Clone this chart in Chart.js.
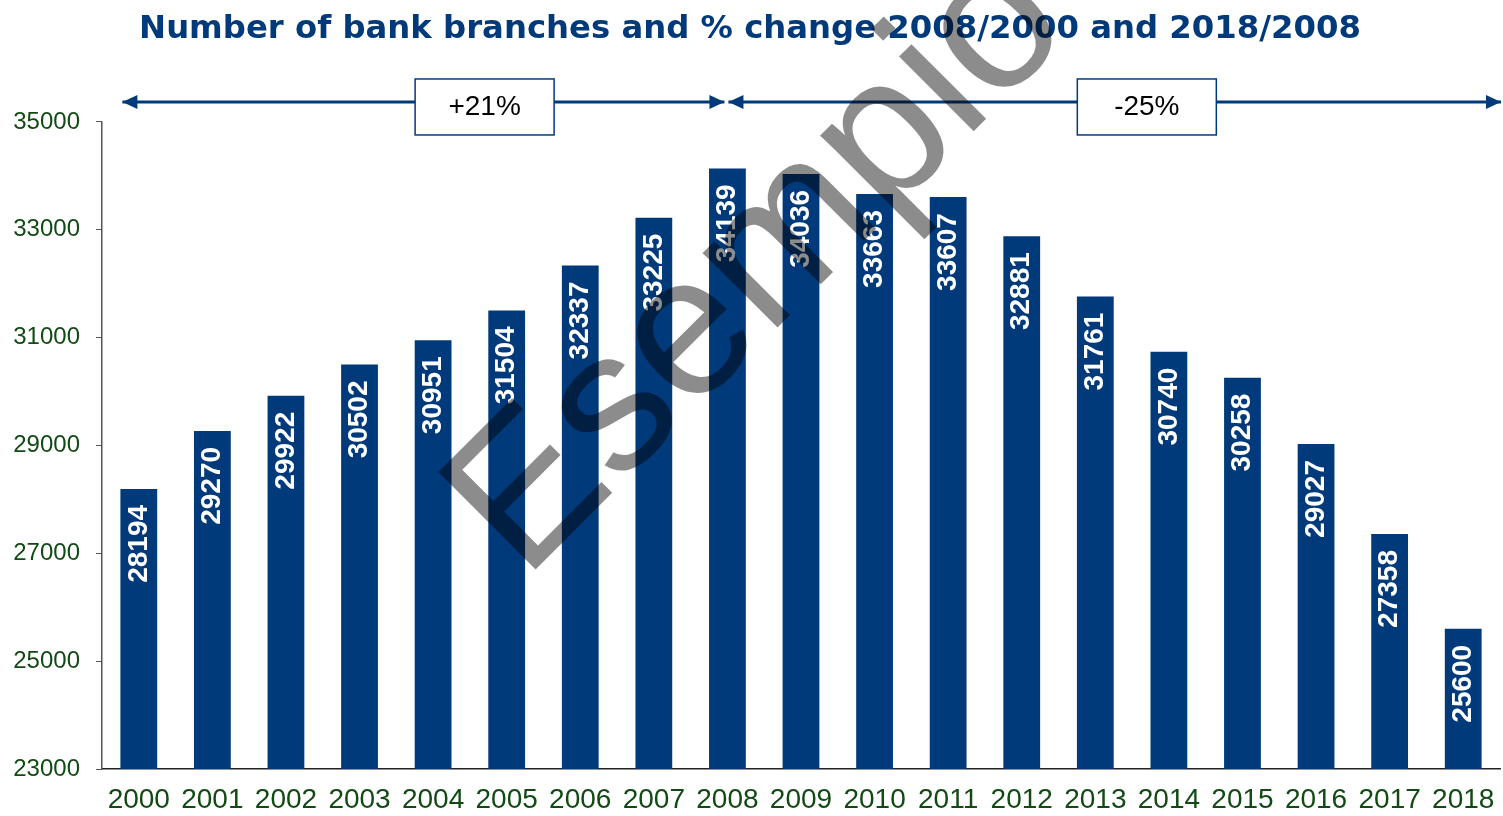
<!DOCTYPE html>
<html>
<head>
<meta charset="utf-8">
<script src="https://cdn.jsdelivr.net/npm/chart.js@4/dist/chart.umd.min.js"></script>
<style>
  html, body { margin: 0; padding: 0; background: #fff; }
  #wrap { width: 1503px; height: 816px; }
</style>
</head>
<body>
<div id="wrap"><canvas id="chart"></canvas></div>
<script>
const years = ["2000", "2001", "2002", "2003", "2004", "2005", "2006", "2007", "2008", "2009",
  "2010", "2011", "2012", "2013", "2014", "2015", "2016", "2017", "2018"];
const branches = [28194, 29270, 29922, 30502, 30951, 31504, 32337, 33225, 34139, 34036,
  33663, 33607, 32881, 31761, 30740, 30258, 29027, 27358, 25600];
const yTicks = [23000, 25000, 27000, 29000, 31000, 33000, 35000];
const changeLabels = ["+21%", "-25%"];
const titleText = "Number of bank branches and % change 2008/2000 and 2018/2008";
const watermark = "Esempio";

const navy = "#003a7a";
const green = "#124a14";

// white rotated values inside the top of each bar
const barValues = {
  id: "barValues",
  afterDatasetsDraw(chart) {
    const ctx = chart.ctx;
    const meta = chart.getDatasetMeta(0);
    ctx.save();
    ctx.fillStyle = "#fff";
    ctx.font = "bold 28px 'Liberation Sans', Arial, sans-serif";
    ctx.textAlign = "right";
    ctx.textBaseline = "middle";
    meta.data.forEach((bar, i) => {
      ctx.save();
      ctx.translate(bar.x, bar.y + 16);
      ctx.rotate(-Math.PI / 2);
      ctx.fillText(String(branches[i]), 0, 0);
      ctx.restore();
    });
    ctx.restore();
  }
};

function arrowHead(ctx, x, y, dir) {
  ctx.beginPath();
  ctx.moveTo(x, y);
  ctx.lineTo(x - dir * 15, y - 7);
  ctx.lineTo(x - dir * 15, y + 7);
  ctx.closePath();
  ctx.fill();
}

// the two period arrows with their % boxes, and the watermark
const periodArrows = {
  id: "periodArrows",
  afterDraw(chart) {
    const ctx = chart.ctx;
    const x = chart.scales.x;
    const area = chart.chartArea;
    const meta = chart.getDatasetMeta(0);
    const halfBar = meta.data[0].width / 2;
    const y = area.top - 20;
    const start = x.getPixelForValue(0) - halfBar + 2;
    const mid = x.getPixelForValue(8);
    const end = area.right + 1;
    const step = x.getPixelForValue(1) - x.getPixelForValue(0);

    ctx.save();
    ctx.strokeStyle = navy;
    ctx.fillStyle = navy;
    ctx.lineWidth = 3;
    ctx.beginPath();
    ctx.moveTo(start, y); ctx.lineTo(mid - 3, y);
    ctx.moveTo(mid + 1, y); ctx.lineTo(end, y);
    ctx.stroke();
    arrowHead(ctx, start, y, -1);
    arrowHead(ctx, mid - 3, y, 1);
    arrowHead(ctx, mid + 1, y, -1);
    arrowHead(ctx, end, y, 1);

    [[4.7, changeLabels[0]], [13.7, changeLabels[1]]].forEach(([pos, txt]) => {
      const cx = x.getPixelForValue(0) + pos * step;
      const w = 139, h = 56;
      ctx.fillStyle = "#fff";
      ctx.fillRect(cx - w / 2, y - 23, w, h);
      ctx.lineWidth = 1.5;
      ctx.strokeStyle = navy;
      ctx.strokeRect(cx - w / 2, y - 23, w, h);
      ctx.fillStyle = "#000";
      ctx.font = "28px 'Liberation Sans', Arial, sans-serif";
      ctx.textAlign = "center";
      ctx.textBaseline = "middle";
      ctx.fillText(txt, cx, y + 5);
    });
    ctx.restore();

    ctx.save();
    ctx.translate(524, 581);
    ctx.rotate(-Math.PI / 4);
    ctx.font = "200px 'Liberation Sans', Arial, sans-serif";
    ctx.fillStyle = "rgba(0,0,0,0.45)";
    ctx.textAlign = "left";
    ctx.textBaseline = "alphabetic";
    ctx.fillText(watermark, 0, 0);
    ctx.restore();
  }
};

new Chart(document.getElementById("chart"), {
  type: "bar",
  data: {
    labels: years,
    datasets: [{
      data: branches,
      backgroundColor: navy,
      barPercentage: 0.5,
      categoryPercentage: 1
    }]
  },
  options: {
    responsive: true,
    maintainAspectRatio: false,
    animation: false,
    layout: { padding: { left: 0, right: 3, top: 0, bottom: 0 } },
    plugins: {
      legend: { display: false },
      tooltip: { enabled: false },
      title: {
        display: true,
        text: titleText,
        color: navy,
        font: { family: "'DejaVu Sans', sans-serif", size: 32.3, weight: "bold" },
        padding: { top: 10, bottom: 73.2 }
      }
    },
    scales: {
      x: {
        afterFit(scale) {
          scale.height = 47;
          scale.paddingLeft = 0;
          scale.paddingRight = 0;
        },
        grid: { drawOnChartArea: false, drawTicks: false },
        border: { color: "#222", width: 1.5 },
        ticks: {
          color: green,
          padding: 14,
          maxRotation: 0,
          autoSkip: false,
          font: { family: "'Liberation Sans', Arial, sans-serif", size: 28 }
        }
      },
      y: {
        min: 23000,
        max: 35000,
        afterFit(scale) { scale.width = 102; },
        afterBuildTicks(scale) {
          scale.ticks = yTicks.map(v => ({ value: v }));
        },
        grid: { drawOnChartArea: false, drawTicks: true, tickLength: 6, color: "#555" },
        border: { color: "#555", width: 1.5 },
        ticks: {
          color: green,
          padding: 16,
          callback: v => String(v),
          font: { family: "'Liberation Sans', Arial, sans-serif", size: 24 }
        }
      }
    }
  },
  plugins: [barValues, periodArrows]
});
</script>
</body>
</html>
